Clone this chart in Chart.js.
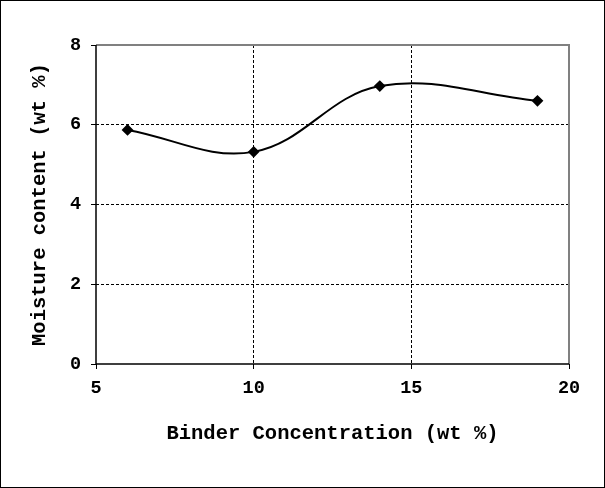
<!DOCTYPE html>
<html>
<head>
<meta charset="utf-8">
<script src="https://cdn.jsdelivr.net/npm/chart.js@4/dist/chart.umd.min.js"></script>
<style>
  html, body { margin: 0; padding: 0; background: #fff; }
  #wrap { width: 605px; height: 488px; position: relative; }
</style>
</head>
<body>
<div id="wrap"><canvas id="c" width="605" height="488"></canvas></div>
<script>
const binderConcentration = [6, 10, 14, 19];
const moistureContent = [5.87, 5.32, 6.97, 6.6];
const xTicks = [5, 10, 15, 20];
const yTicks = [0, 2, 4, 6, 8];

const FONT = "'Liberation Mono', 'Courier New', monospace";

const frame = {
  id: 'frame',
  beforeDraw(chart) {
    const ctx = chart.ctx;
    ctx.save();
    ctx.fillStyle = '#fff';
    ctx.fillRect(0, 0, chart.width, chart.height);
    ctx.restore();
  },
  afterDraw(chart) {
    const ctx = chart.ctx;
    const a = chart.chartArea;
    ctx.save();
    ctx.lineWidth = 1;
    ctx.strokeStyle = '#000';
    ctx.strokeRect(0.5, 0.5, chart.width - 1, chart.height - 1);
    ctx.strokeStyle = '#808080';
    ctx.lineWidth = 2;
    ctx.beginPath();
    ctx.moveTo(a.left, a.top);
    ctx.lineTo(a.right, a.top);
    ctx.lineTo(a.right, a.bottom);
    ctx.stroke();
    ctx.strokeStyle = '#000';
    ctx.lineWidth = 1.5;
    ctx.beginPath();
    ctx.moveTo(a.left, a.top);
    ctx.lineTo(a.left, a.bottom);
    ctx.lineTo(a.right, a.bottom);
    ctx.stroke();
    ctx.restore();
  }
};

new Chart(document.getElementById('c'), {
  type: 'line',
  data: {
    datasets: [{
      data: binderConcentration.map((x, i) => ({ x: x, y: moistureContent[i] })),
      borderColor: '#000',
      backgroundColor: '#000',
      borderWidth: 2,
      pointStyle: 'rectRot',
      pointRadius: 4.5,
      pointBackgroundColor: '#000',
      pointBorderColor: '#000',
      tension: 0.38,
      fill: false
    }]
  },
  plugins: [frame],
  options: {
    responsive: false,
    animation: false,
    devicePixelRatio: 1,
    layout: { padding: { top: 45, right: 36, bottom: 0, left: 0 } },
    plugins: { legend: { display: false }, tooltip: { enabled: false } },
    scales: {
      x: {
        type: 'linear',
        min: 5, max: 20,
        afterBuildTicks(scale) { scale.ticks = xTicks.map(v => ({ value: v })); },
        afterFit(scale) { scale.height = 124; },
        border: { display: false, dash: [3, 2] },
        grid: {
          color: ctx => (ctx.tick && (ctx.tick.value === 5 || ctx.tick.value === 20)) ? 'rgba(0,0,0,0)' : '#000',
          lineWidth: 1,
          drawTicks: true,
          tickLength: 5,
          tickColor: '#000',
          tickBorderDash: []
        },
        ticks: {
          color: '#000',
          font: { family: FONT, size: 18.5, weight: 'bold' },
          padding: 8,
          maxRotation: 0
        },
        title: {
          display: true,
          text: 'Binder Concentration (wt %)',
          color: '#000',
          font: { family: FONT, size: 20.5, weight: 'bold' },
          padding: { top: 0, bottom: 42 }
        }
      },
      y: {
        type: 'linear',
        min: 0, max: 8,
        afterBuildTicks(scale) { scale.ticks = yTicks.map(v => ({ value: v })); },
        afterFit(scale) { scale.width = 96; },
        border: { display: false, dash: [3, 2] },
        grid: {
          color: ctx => (ctx.tick && (ctx.tick.value === 0 || ctx.tick.value === 8)) ? 'rgba(0,0,0,0)' : '#000',
          lineWidth: 1,
          drawTicks: true,
          tickLength: 5,
          tickColor: '#000',
          tickBorderDash: []
        },
        ticks: {
          color: '#000',
          font: { family: FONT, size: 18.5, weight: 'bold' },
          padding: 10
        },
        title: {
          display: true,
          text: 'Moisture content (wt %)',
          color: '#000',
          font: { family: FONT, size: 20.5, weight: 'bold' },
          padding: { top: 28, bottom: 0 }
        }
      }
    }
  }
});
</script>
</body>
</html>
